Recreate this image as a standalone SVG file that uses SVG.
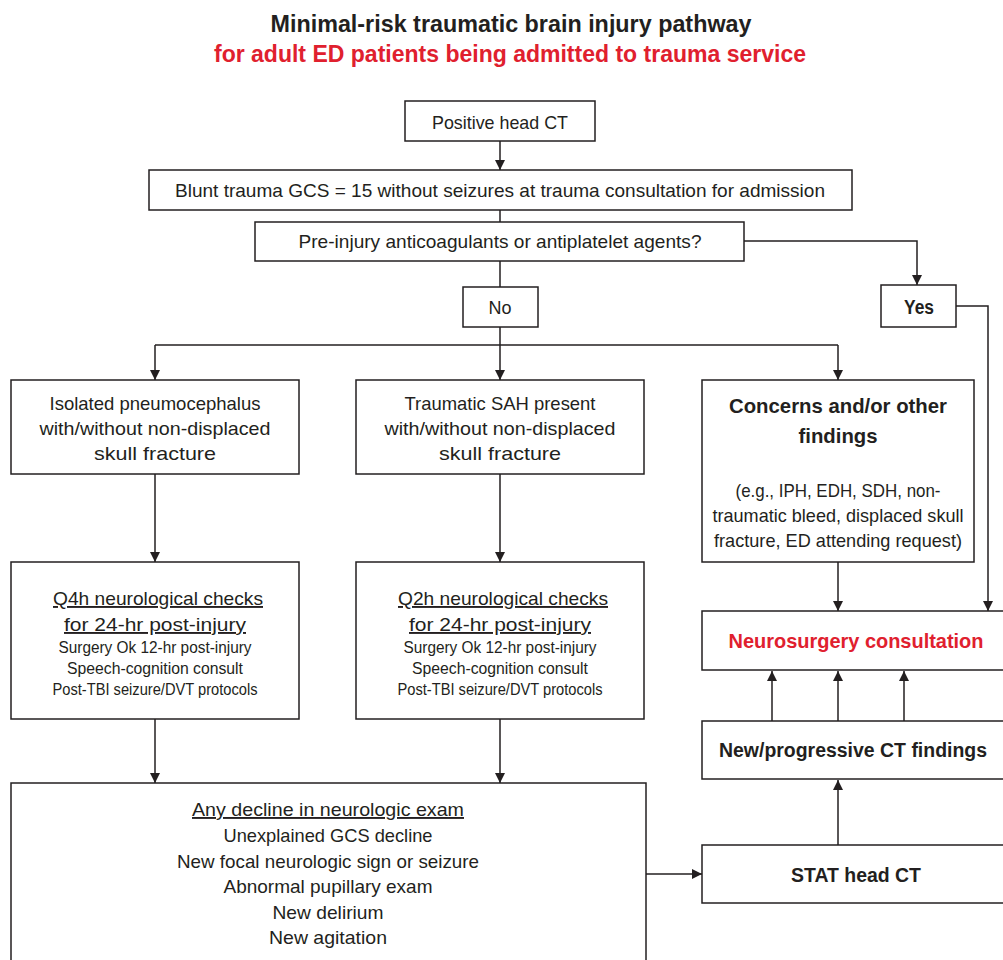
<svg xmlns="http://www.w3.org/2000/svg" width="1003" height="960" viewBox="0 0 1003 960">
<defs>
<marker id="ah" viewBox="0 0 10 10" refX="10" refY="5" markerWidth="10" markerHeight="10" markerUnits="userSpaceOnUse" orient="auto">
<path d="M0,0 L10,5 L0,10 Z" fill="#231f20"/>
</marker>
<style>
text{font-family:"Liberation Sans",Arial,sans-serif;fill:#231f20;text-anchor:middle}
.box{fill:#fff;stroke:#231f20;stroke-width:1.5}
.t{font-size:19px}
.s{font-size:16px}
.b{font-size:21px;font-weight:bold}
.red{fill:#e0202e}
.u{text-decoration:underline}
.c line,.c polyline{fill:none;stroke:#231f20;stroke-width:1.5}
.title{font-size:24px;font-weight:bold}
</style>
</defs>
<rect width="1003" height="960" fill="#fff"/>
<text class="title" x="511" y="32" textLength="481" lengthAdjust="spacingAndGlyphs">Minimal-risk traumatic brain injury pathway</text>
<text class="title red" x="510" y="62" textLength="592" lengthAdjust="spacingAndGlyphs">for adult ED patients being admitted to trauma service</text>

<g class="c" id="connectors">
<line x1="500" y1="141" x2="500" y2="170" marker-end="url(#ah)"/>
<line x1="500" y1="210" x2="500" y2="222"/>
<polyline points="744,241 917,241 917,285" marker-end="url(#ah)"/>
<line x1="500" y1="261" x2="500" y2="287"/>
<polyline points="956,306 988,306 988,611" marker-end="url(#ah)"/>
<line x1="500" y1="327" x2="500" y2="345"/>
<line x1="155" y1="345" x2="838" y2="345"/>
<line x1="155" y1="345" x2="155" y2="380" marker-end="url(#ah)"/>
<line x1="500" y1="345" x2="500" y2="380" marker-end="url(#ah)"/>
<line x1="838" y1="345" x2="838" y2="380" marker-end="url(#ah)"/>
<line x1="155" y1="474" x2="155" y2="562" marker-end="url(#ah)"/>
<line x1="500" y1="474" x2="500" y2="562" marker-end="url(#ah)"/>
<line x1="838" y1="562" x2="838" y2="611" marker-end="url(#ah)"/>
<line x1="155" y1="719" x2="155" y2="783" marker-end="url(#ah)"/>
<line x1="500" y1="719" x2="500" y2="783" marker-end="url(#ah)"/>
<line x1="646" y1="874" x2="702" y2="874" marker-end="url(#ah)"/>
<line x1="838" y1="845" x2="838" y2="780" marker-end="url(#ah)"/>
<line x1="772" y1="721" x2="772" y2="671" marker-end="url(#ah)"/>
<line x1="838" y1="721" x2="838" y2="671" marker-end="url(#ah)"/>
<line x1="904" y1="721" x2="904" y2="671" marker-end="url(#ah)"/>
</g>

<g id="positive-ct">
<rect class="box" x="405" y="101" width="190" height="40"/>
<text class="t" x="500" y="129" textLength="136" lengthAdjust="spacingAndGlyphs">Positive head CT</text>
</g>
<g id="blunt-trauma">
<rect class="box" x="149" y="170" width="703" height="40"/>
<text class="t" x="500" y="197" textLength="650" lengthAdjust="spacingAndGlyphs">Blunt trauma GCS = 15 without seizures at trauma consultation for admission</text>
</g>
<g id="pre-injury">
<rect class="box" x="255" y="222" width="489" height="39"/>
<text class="t" x="500" y="248" textLength="403" lengthAdjust="spacingAndGlyphs">Pre-injury anticoagulants or antiplatelet agents?</text>
</g>
<g id="no">
<rect class="box" x="463" y="287" width="75" height="40"/>
<text class="t" x="500" y="314" textLength="23" lengthAdjust="spacingAndGlyphs">No</text>
</g>
<g id="yes">
<rect class="box" x="881" y="285" width="75" height="42"/>
<text class="t" x="919" y="314" style="font-weight:bold;font-size:20px" textLength="30" lengthAdjust="spacingAndGlyphs">Yes</text>
</g>
<g id="pneumocephalus">
<rect class="box" x="11" y="380" width="288" height="94"/>
<text class="t" x="155" y="410" textLength="211" lengthAdjust="spacingAndGlyphs">Isolated pneumocephalus</text>
<text class="t" x="155" y="435" textLength="231" lengthAdjust="spacingAndGlyphs">with/without non-displaced</text>
<text class="t" x="155" y="460" textLength="122" lengthAdjust="spacingAndGlyphs">skull fracture</text>
</g>
<g id="sah">
<rect class="box" x="356" y="380" width="288" height="94"/>
<text class="t" x="500" y="410" textLength="191" lengthAdjust="spacingAndGlyphs">Traumatic SAH present</text>
<text class="t" x="500" y="435" textLength="231" lengthAdjust="spacingAndGlyphs">with/without non-displaced</text>
<text class="t" x="500" y="460" textLength="122" lengthAdjust="spacingAndGlyphs">skull fracture</text>
</g>
<g id="concerns">
<rect class="box" x="702" y="380" width="272" height="182"/>
<text class="b" x="838" y="413" textLength="218" lengthAdjust="spacingAndGlyphs">Concerns and/or other</text>
<text class="b" x="838" y="443" textLength="79" lengthAdjust="spacingAndGlyphs">findings</text>
<text class="t" x="838" y="497" textLength="205" lengthAdjust="spacingAndGlyphs">(e.g., IPH, EDH, SDH, non-</text>
<text class="t" x="838" y="522" textLength="251" lengthAdjust="spacingAndGlyphs">traumatic bleed, displaced skull</text>
<text class="t" x="838" y="547" textLength="248" lengthAdjust="spacingAndGlyphs">fracture, ED attending request)</text>
</g>
<g id="q4h">
<rect class="box" x="11" y="562" width="288" height="157"/>
<text class="t u" x="158" y="605" textLength="210" lengthAdjust="spacingAndGlyphs">Q4h neurological checks </text>
<text class="t u" x="155" y="631" textLength="182" lengthAdjust="spacingAndGlyphs">for 24-hr post-injury</text>
<text class="s" x="155" y="653" textLength="193" lengthAdjust="spacingAndGlyphs">Surgery Ok 12-hr post-injury</text>
<text class="s" x="155" y="674" textLength="176" lengthAdjust="spacingAndGlyphs">Speech-cognition consult</text>
<text class="s" x="155" y="695" textLength="205" lengthAdjust="spacingAndGlyphs">Post-TBI seizure/DVT protocols</text>
</g>
<g id="q2h">
<rect class="box" x="356" y="562" width="288" height="157"/>
<text class="t u" x="503" y="605" textLength="210" lengthAdjust="spacingAndGlyphs">Q2h neurological checks </text>
<text class="t u" x="500" y="631" textLength="182" lengthAdjust="spacingAndGlyphs">for 24-hr post-injury</text>
<text class="s" x="500" y="653" textLength="193" lengthAdjust="spacingAndGlyphs">Surgery Ok 12-hr post-injury</text>
<text class="s" x="500" y="674" textLength="176" lengthAdjust="spacingAndGlyphs">Speech-cognition consult</text>
<text class="s" x="500" y="695" textLength="205" lengthAdjust="spacingAndGlyphs">Post-TBI seizure/DVT protocols</text>
</g>
<g id="decline">
<rect class="box" x="11" y="783" width="635" height="200"/>
<text class="t u" x="328" y="816" textLength="272" lengthAdjust="spacingAndGlyphs">Any decline in neurologic exam</text>
<text class="t" x="328" y="842" textLength="209" lengthAdjust="spacingAndGlyphs">Unexplained GCS decline</text>
<text class="t" x="328" y="868" textLength="302" lengthAdjust="spacingAndGlyphs">New focal neurologic sign or seizure</text>
<text class="t" x="328" y="893" textLength="209" lengthAdjust="spacingAndGlyphs">Abnormal pupillary exam</text>
<text class="t" x="328" y="919" textLength="111" lengthAdjust="spacingAndGlyphs">New delirium</text>
<text class="t" x="328" y="944" textLength="118" lengthAdjust="spacingAndGlyphs">New agitation</text>
</g>
<g id="neurosurgery">
<rect class="box" x="702" y="611" width="320" height="59"/>
<text class="b red" x="856" y="648" textLength="255" lengthAdjust="spacingAndGlyphs">Neurosurgery consultation</text>
</g>
<g id="new-progressive">
<rect class="box" x="702" y="721" width="320" height="58"/>
<text class="b" x="853" y="757" style="font-size:19.5px" textLength="268" lengthAdjust="spacingAndGlyphs">New/progressive CT findings</text>
</g>
<g id="stat-ct">
<rect class="box" x="702" y="845" width="320" height="58"/>
<text class="b" x="856" y="882" textLength="130" lengthAdjust="spacingAndGlyphs">STAT head CT</text>
</g>
</svg>
